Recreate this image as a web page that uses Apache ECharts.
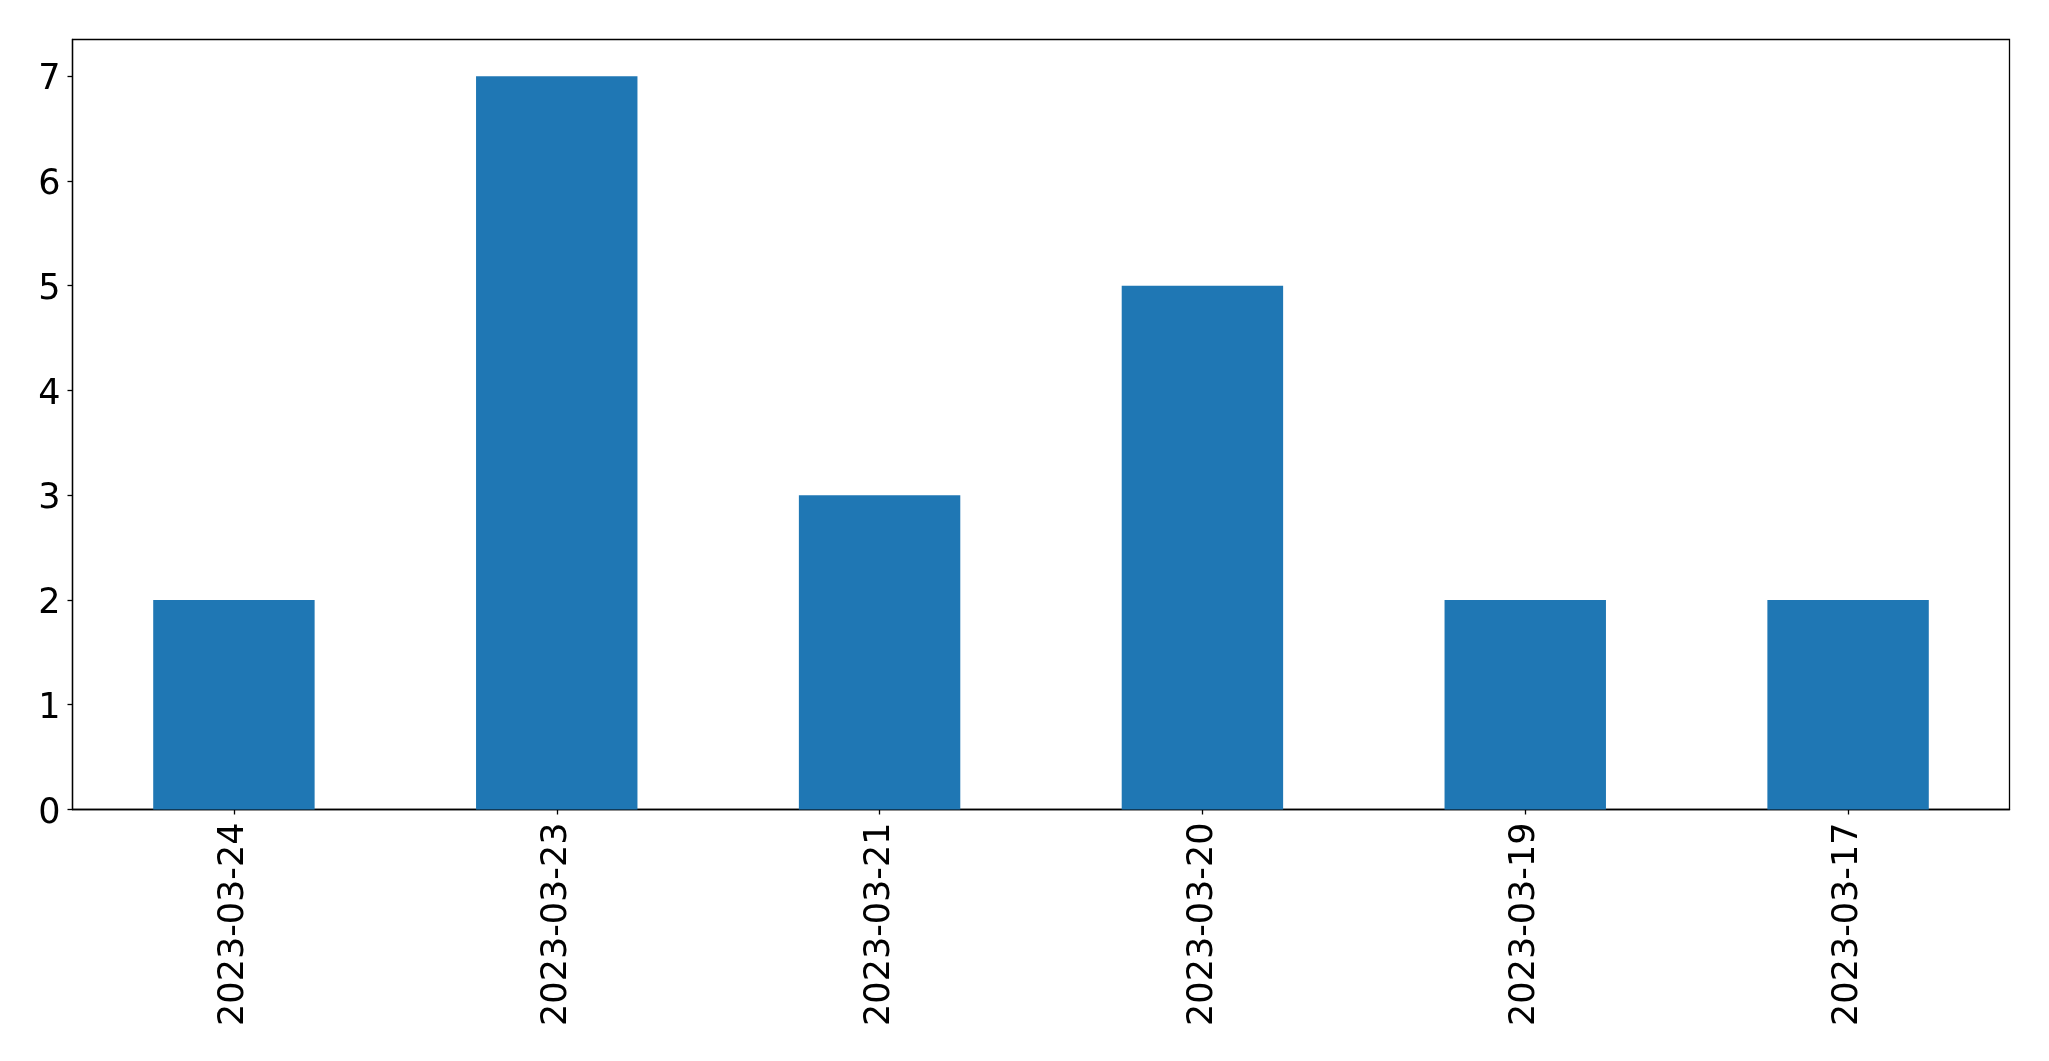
<!DOCTYPE html>
<html>
<head>
<meta charset="utf-8">
<script src="https://cdn.jsdelivr.net/npm/echarts@6/dist/echarts.min.js"></script>
<style>
html,body{margin:0;padding:0;background:#fff;}
#chart{width:2049px;height:1061px;}
</style>
</head>
<body>
<div id="chart"></div>
<script>
const categories = ['2023-03-24', '2023-03-23', '2023-03-21', '2023-03-20', '2023-03-19', '2023-03-17'];
const counts = [2, 7, 3, 5, 2, 2];
const yTicks = [0, 1, 2, 3, 4, 5, 6, 7];

const chart = echarts.init(document.getElementById('chart'), null, {renderer: 'canvas'});
const font = 'DejaVu Sans';
chart.setOption({
  animation: false,
  backgroundColor: '#ffffff',
  grid: {
    left: 72.5, top: 39.5, right: 39.5, bottom: 251.5,
    show: true, borderColor: '#000', borderWidth: 1.3, backgroundColor: 'transparent'
  },
  xAxis: {
    type: 'category',
    data: categories,
    boundaryGap: true,
    axisLine: {show: true, lineStyle: {color: '#000', width: 1.3}},
    axisTick: {show: true, alignWithLabel: true, length: 5, lineStyle: {color: '#000', width: 1.3}},
    axisLabel: {rotate: 90, margin: 13, fontSize: 35, fontFamily: font, color: '#000', interval: 0},
    splitLine: {show: false}
  },
  yAxis: {
    type: 'value',
    min: 0,
    max: 7.35,
    interval: 1,
    axisLine: {show: true, lineStyle: {color: '#000', width: 1.3}},
    axisTick: {show: true, length: 5, lineStyle: {color: '#000', width: 1.3}, customValues: yTicks},
    axisLabel: {
      margin: 12, fontFamily: font, color: '#000', customValues: yTicks,
      formatter: '{a|{value}}',
      rich: {a: {fontSize: 35, fontFamily: font, color: '#000', padding: [8, 0, 0, 0]}}
    },
    splitLine: {show: false}
  },
  series: [{
    type: 'bar',
    data: counts,
    barWidth: '50%',
    itemStyle: {color: '#1f77b4'}
  }]
});
</script>
</body>
</html>
